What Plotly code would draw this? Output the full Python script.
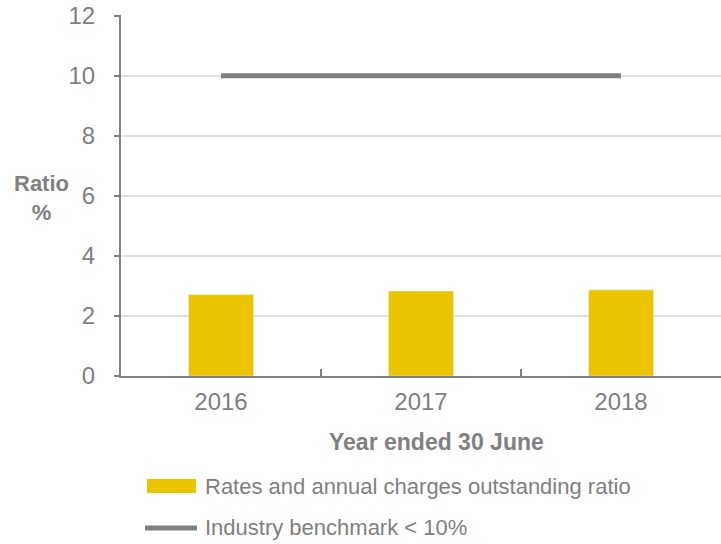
import plotly.graph_objects as go

years = ["2016", "2017", "2018"]
ratio_values = [2.71, 2.83, 2.87]
benchmark_values = [10, 10, 10]
bar_name = "Rates and annual charges outstanding ratio"
line_name = "Industry benchmark < 10%"
y_ticks = [0, 2, 4, 6, 8, 10, 12]

GRAY = "#808080"
GOLD = "#EAC500"
FONT = "Liberation Sans, Arial, sans-serif"

W, H = 721, 544
L, R, T, B = 121, 0, 15, 168
PW, PH = W - L - R, H - T - B

def px(x):
    return (x - L) / PW

def py(y):
    return (H - B - y) / PH

fig = go.Figure()
fig.add_trace(go.Bar(x=years, y=ratio_values, name=bar_name, marker_color=GOLD,
                     width=0.325, showlegend=False))
fig.add_trace(go.Scatter(x=years, y=benchmark_values, name=line_name, mode="lines",
                         line=dict(color=GRAY, width=5), showlegend=False))

fig.update_layout(
    width=W, height=H,
    margin=dict(l=L, r=R, t=T, b=B),
    plot_bgcolor="white", paper_bgcolor="white",
    font=dict(family=FONT, color=GRAY, size=24),
)
fig.update_xaxes(type="category", showline=True, linecolor=GRAY, linewidth=2,
                 ticks="inside", tickson="boundaries", ticklen=7, tickwidth=2,
                 tickcolor=GRAY, showgrid=False, tickfont=dict(size=24, color=GRAY),
                 ticklabelstandoff=3, automargin=False)
fig.update_yaxes(range=[0, 12.02], tickvals=y_ticks, showline=True, linecolor=GRAY,
                 linewidth=2, ticks="outside", ticklen=5, tickwidth=2, tickcolor=GRAY,
                 showgrid=True, gridcolor="#E0E0E0", gridwidth=2, zeroline=False,
                 tickfont=dict(size=24, color=GRAY), ticklabelstandoff=14,
                 automargin=False)

# axis titles
fig.add_annotation(text="<b>Ratio</b><br><b>%</b>", xref="paper", yref="paper",
                   x=px(41), y=py(198), showarrow=False, xanchor="center", yanchor="middle",
                   font=dict(size=22, color=GRAY, family=FONT))
fig.add_annotation(text="<b>Year ended 30 June</b>", xref="paper", yref="paper",
                   x=px(436), y=py(442), showarrow=False, xanchor="center", yanchor="middle",
                   font=dict(size=23, color=GRAY, family=FONT))

# legend
fig.add_shape(type="rect", xref="paper", yref="paper", x0=px(147), x1=px(196),
              y0=py(493), y1=py(479), fillcolor=GOLD, line=dict(width=0))
fig.add_shape(type="line", xref="paper", yref="paper", x0=px(145), x1=px(197),
              y0=py(528), y1=py(528), line=dict(color=GRAY, width=5))
fig.add_annotation(text=bar_name, xref="paper", yref="paper", x=px(203), y=py(486),
                   showarrow=False, xanchor="left", yanchor="middle",
                   font=dict(size=22, color=GRAY, family=FONT))
fig.add_annotation(text=line_name, xref="paper", yref="paper", x=px(203), y=py(527),
                   showarrow=False, xanchor="left", yanchor="middle",
                   font=dict(size=22, color=GRAY, family=FONT))

fig.write_html("out.html",
               config={"displayModeBar": False},
               post_script="document.body.style.margin='0';document.body.style.padding='0';")
